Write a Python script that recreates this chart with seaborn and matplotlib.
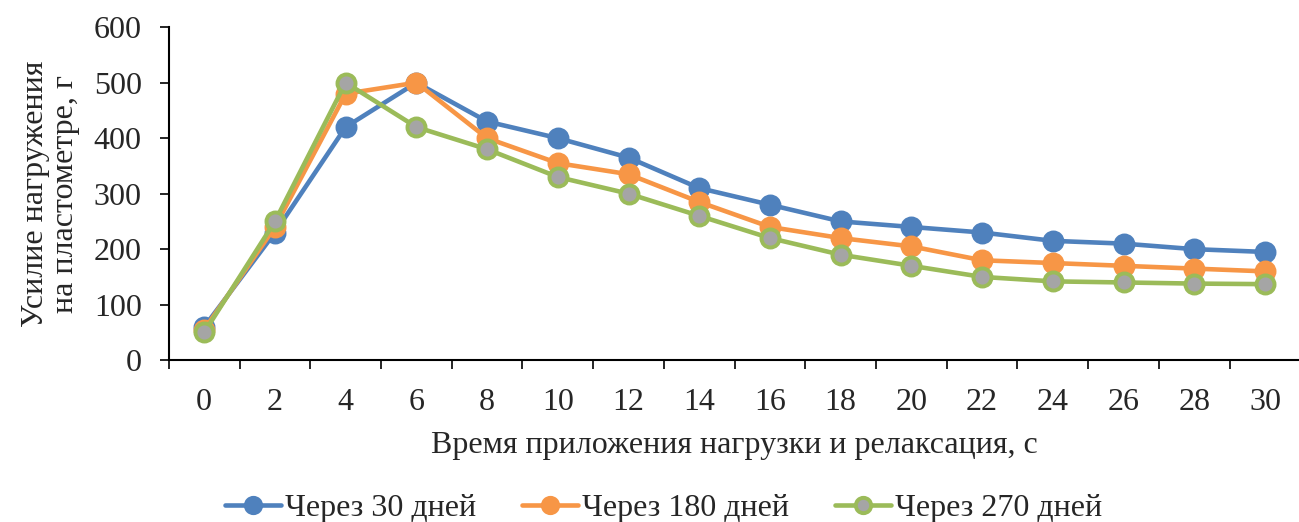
import matplotlib
matplotlib.use("Agg")
import matplotlib.pyplot as plt
import seaborn as sns
import pandas as pd
import numpy as np

times = [0, 2, 4, 6, 8, 10, 12, 14, 16, 18, 20, 22, 24, 26, 28, 30]
s30 = [60, 230, 420, 500, 430, 400, 365, 310, 280, 250, 240, 230, 215, 210, 200, 195]
s180 = [55, 240, 480, 500, 400, 355, 335, 285, 240, 220, 205, 180, 175, 170, 165, 160]
s270 = [50, 250, 500, 420, 380, 330, 300, 260, 220, 190, 170, 150, 142, 140, 138, 137]
names = ["Через 30 дней", "Через 180 дней", "Через 270 дней"]
colors = ["#4F81BD", "#F79646", "#9BBB59"]
faces = ["#4F81BD", "#F79646", "#A5A5A5"]

sns.set_theme(style="white")
plt.rcParams['font.family'] = ['Liberation Serif', 'DejaVu Serif']

FS = 23

fig = plt.figure(figsize=(12.99, 5.22), dpi=100)
ax = fig.add_axes([0.130, 0.310, 0.871, 0.638])

idx = np.arange(len(times))
for vals, name, c, fc in zip([s30, s180, s270], names, colors, faces):
    df = pd.DataFrame({"x": idx, "y": vals})
    sns.lineplot(data=df, x="x", y="y", ax=ax, color=c, linewidth=3.3,
                 marker="o", markersize=13, markerfacecolor=fc,
                 markeredgecolor=c, markeredgewidth=2.8, label=name)

ax.set_xlim(-0.5, len(times) - 0.5)
ax.set_ylim(0, 600)
ax.set_yticks(range(0, 601, 100))
ax.set_xticks(np.arange(-0.5, len(times), 1.0))
ax.set_xticklabels([])
ax.set_xticks(idx, minor=True)
ax.set_xticklabels([str(t) for t in times], minor=True)
ax.tick_params(axis="x", which="major", direction="out", length=6.5, width=1.2, color="black", bottom=True)
ax.tick_params(axis="x", which="minor", length=0, labelsize=FS, pad=20, bottom=True)
ax.tick_params(axis="y", direction="out", length=6.5, width=1.2, color="black", labelsize=FS, left=True, pad=13)

for sp in ["top", "right"]:
    ax.spines[sp].set_visible(False)
for sp in ["left", "bottom"]:
    ax.spines[sp].set_color("black")
    ax.spines[sp].set_linewidth(1.5)

ax.set_xlabel("Время приложения нагрузки и релаксация, с", fontsize=FS, labelpad=10)
ax.set_ylabel("Усилие нагружения\nна пластометре, г", fontsize=FS, labelpad=10, linespacing=1.05)

leg = ax.legend(loc="lower center", bbox_to_anchor=(0.511, -0.033), bbox_transform=fig.transFigure,
                ncol=3, frameon=False, fontsize=FS, handlelength=1.75, handletextpad=0.12,
                columnspacing=1.45, borderaxespad=0.1, markerscale=0.85)

fig.savefig("out.png", dpi=100)
